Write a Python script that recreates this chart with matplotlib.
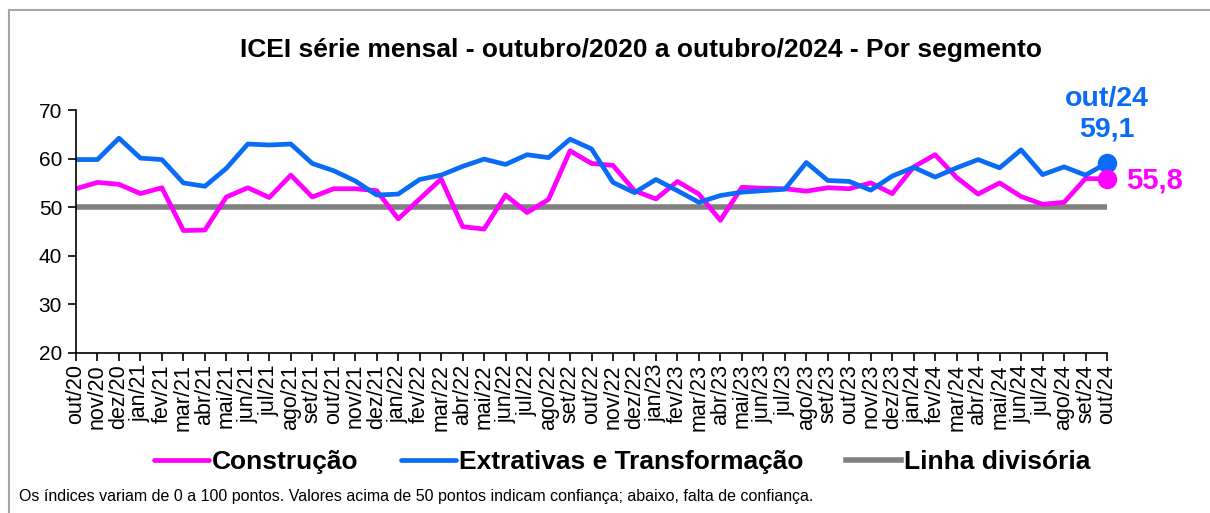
import matplotlib
matplotlib.use('Agg')
import matplotlib.pyplot as plt
from matplotlib.patches import Rectangle

plt.rcParams['font.family'] = ['Liberation Sans', 'DejaVu Sans']

# Monthly labels out/20 .. out/24
months = ['out/20', 'nov/20', 'dez/20',
          'jan/21', 'fev/21', 'mar/21', 'abr/21', 'mai/21', 'jun/21',
          'jul/21', 'ago/21', 'set/21', 'out/21', 'nov/21', 'dez/21',
          'jan/22', 'fev/22', 'mar/22', 'abr/22', 'mai/22', 'jun/22',
          'jul/22', 'ago/22', 'set/22', 'out/22', 'nov/22', 'dez/22',
          'jan/23', 'fev/23', 'mar/23', 'abr/23', 'mai/23', 'jun/23',
          'jul/23', 'ago/23', 'set/23', 'out/23', 'nov/23', 'dez/23',
          'jan/24', 'fev/24', 'mar/24', 'abr/24', 'mai/24', 'jun/24',
          'jul/24', 'ago/24', 'set/24', 'out/24']

construcao = [53.8, 55.1, 54.7, 52.8, 54.0, 45.2, 45.3, 52.1, 54.0,
              52.0, 56.6, 52.1, 53.8, 53.8, 53.4, 47.6, 51.7, 55.8,
              46.0, 45.5, 52.5, 48.9, 51.6, 61.6, 59.0, 58.6, 53.4,
              51.7, 55.3, 52.7, 47.3, 54.1, 53.9, 53.8, 53.3, 54.0,
              53.8, 55.0, 52.8, 58.3, 60.8, 56.1, 52.7, 55.0, 52.2,
              50.6, 51.0, 55.9, 55.8]

extrativas = [59.8, 59.8, 64.2, 60.1, 59.8, 55.0, 54.3, 58.0, 63.0,
              62.8, 63.0, 59.0, 57.5, 55.4, 52.5, 52.7, 55.7, 56.6,
              58.4, 59.9, 58.8, 60.8, 60.2, 64.0, 62.0, 55.1, 53.0,
              55.7, 53.4, 51.0, 52.4, 53.1, 53.4, 53.7, 59.2, 55.5,
              55.3, 53.5, 56.4, 58.2, 56.2, 58.1, 59.8, 58.1, 61.8,
              56.7, 58.3, 56.6, 59.1]

divisoria = [50] * len(months)

pink = '#FF00FF'
blue = '#0A6CF5'
gray = '#808080'

fig = plt.figure(figsize=(12.1, 5.13), dpi=100)
fig.patches.append(Rectangle((9 / 1210, -0.1), 1.2, 1 - 10 / 513 + 0.1,
                             transform=fig.transFigure, fill=False,
                             edgecolor='#A6A6A6', linewidth=1.5))

ax = fig.add_axes([76 / 1210, 1 - 353 / 513, 1031 / 1210, 243 / 513])
x = list(range(len(months)))

ax.plot(x, construcao, color=pink, lw=3.4, label='Construção', solid_capstyle='round')
ax.plot(x, extrativas, color=blue, lw=3.4, label='Extrativas e Transformação', solid_capstyle='round')
ax.plot(x, divisoria, color=gray, lw=4, label='Linha divisória', zorder=1)

# end points
ax.plot(x[-1], extrativas[-1], 'o', color=blue, ms=13, clip_on=False)
ax.plot(x[-1], construcao[-1], 'o', color=pink, ms=13, clip_on=False)
ax.annotate('out/24\n59,1', (x[-1], extrativas[-1]), xytext=(0, 15),
            textcoords='offset points', ha='center', va='bottom',
            color=blue, fontsize=20.5, fontweight='bold', linespacing=1.2,
            annotation_clip=False)
ax.annotate(str(construcao[-1]).replace('.', ','), (x[-1], construcao[-1]),
            xytext=(14, -1), textcoords='offset points', ha='left', va='center',
            color=pink, fontsize=21, fontweight='bold', annotation_clip=False)

ax.set_xlim(0, len(months) - 1)
ax.set_ylim(20, 70)
ax.set_yticks(range(20, 71, 10))
ax.set_xticks(x)
ax.set_xticklabels(months, rotation=90, fontsize=15.5)
ax.tick_params(axis='y', labelsize=15, length=6, width=1.2, pad=4)
ax.tick_params(axis='x', length=6, width=1.2, pad=2)
for s in ['top', 'right']:
    ax.spines[s].set_visible(False)
for s in ['left', 'bottom']:
    ax.spines[s].set_linewidth(1.2)

fig.text(0.53, 1 - 50 / 513, 'ICEI série mensal - outubro/2020 a outubro/2024 - Por segmento',
         ha='center', va='center', fontsize=19, fontweight='bold')

fig.legend(loc='center', bbox_to_anchor=(0.514, 1 - 462 / 513), ncol=3,
           frameon=False, prop={'size': 19, 'weight': 'bold'},
           handlelength=2.1, handletextpad=0.1, columnspacing=1.6)

fig.text(19 / 1210, 1 - 497 / 513,
         'Os índices variam de 0 a 100 pontos. Valores acima de 50 pontos indicam confiança; abaixo, falta de confiança.',
         ha='left', va='center', fontsize=11.5)

fig.savefig('out.png', dpi=100)
